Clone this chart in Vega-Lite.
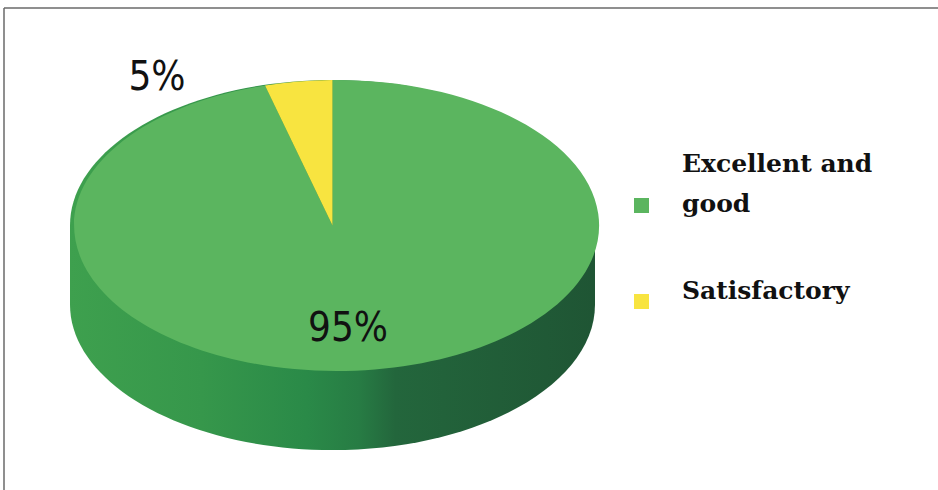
{
  "$schema": "https://vega.github.io/schema/vega-lite/v6.json",
  "width": 934,
  "height": 482,
  "padding": {"left": 4, "top": 8, "right": 0, "bottom": 0},
  "autosize": {"type": "none"},
  "background": "white",
  "view": {"stroke": null},
  "data": {"values": [
    {"category": "Excellent and good", "share": 0.95},
    {"category": "Satisfactory", "share": 0.05}
  ]},
  "layer": [
    {
      "mark": {"type": "point", "shape": "square", "size": 100, "filled": true, "opacity": 1, "strokeWidth": 0},
      "encoding": {
        "color": {"field": "category", "type": "nominal",
          "scale": {"domain": ["Excellent and good", "Satisfactory"], "range": ["#5bb55f", "#f8e440"]},
          "legend": {
            "title": null, "orient": "none", "legendX": 625, "legendY": 185,
            "symbolType": "square", "symbolSize": 225, "symbolStrokeWidth": 0, "symbolOpacity": 1,
            "labelFont": "DejaVu Serif", "labelFontWeight": "bold", "labelFontSize": 25,
            "labelColor": "#111111", "labelOffset": 28, "labelLimit": 400, "rowPadding": 61,
            "labelBaseline": "middle",
            "labelExpr": "datum.label == 'Excellent and good' ? ['Excellent and', 'good'] : datum.label",
            "encode": {
              "symbols": {"update": {
                "fill": {"signal": "datum.value == 'Excellent and good' ? '#3fa24d' : '#f6df3c'"}
              }},
              "labels": {"update": {
                "lineHeight": {"value": 40},
                "dy": {"signal": "datum.label == 'Excellent and good' ? -42 : -11"}
              }}
            }
          }}
      }
    },
    {
      "transform": [{"filter": "datum.category == 'Excellent and good'"}],
      "mark": {
        "type": "point",
        "shape": "M -401 -23.5 L -401 55.5 A 262.5 145.5 0 0 0 124 55.5 L 124 -23.5 A 262.5 145.5 0 0 0 -401 -23.5 Z",
        "size": 4, "filled": true, "opacity": 1, "strokeWidth": 0,
        "fill": {"gradient": "linear", "x1": 0, "y1": 0, "x2": 1, "y2": 0,
          "stops": [
            {"offset": 0, "color": "#3ea04e"},
            {"offset": 0.25, "color": "#36974b"},
            {"offset": 0.45, "color": "#2a8a48"},
            {"offset": 0.55, "color": "#277c44"},
            {"offset": 0.62, "color": "#23663c"},
            {"offset": 1, "color": "#1f5534"}
          ]}
      },
      "encoding": {}
    },
    {
      "transform": [{"filter": "datum.category == 'Excellent and good'"}],
      "mark": {"type": "point", "size": 4, "filled": true, "opacity": 1, "strokeWidth": 0,
        "shape": "M -138.5 -23.5 L -206 -163.5 A 262.5 145.5 0 1 0 -138.5 -169 Z"},
      "encoding": {
        "color": {"field": "category", "type": "nominal", "legend": null}
      }
    },
    {
      "transform": [{"filter": "datum.category == 'Satisfactory'"}],
      "mark": {"type": "point", "size": 4, "filled": true, "opacity": 1, "strokeWidth": 0,
        "shape": "M -138.5 -23.5 L -138.5 -169 A 262.5 145.5 0 0 0 -206 -163.5 Z"},
      "encoding": {
        "color": {"field": "category", "type": "nominal", "legend": null}
      }
    },
    {
      "transform": [{"filter": "datum.category == 'Satisfactory'"}],
      "mark": {"type": "text", "dx": -314, "dy": -171, "align": "center", "baseline": "middle",
        "font": "DejaVu Sans Condensed, sans-serif", "fontSize": 40, "color": "#111111"},
      "encoding": {"text": {"field": "share", "type": "quantitative", "format": ".0%"}}
    },
    {
      "transform": [{"filter": "datum.category == 'Excellent and good'"}],
      "mark": {"type": "text", "dx": -123, "dy": 80, "align": "center", "baseline": "middle",
        "font": "DejaVu Sans Condensed, sans-serif", "fontSize": 40, "color": "#111111"},
      "encoding": {"text": {"field": "share", "type": "quantitative", "format": ".0%"}}
    },
    {
      "transform": [{"filter": "datum.category == 'Excellent and good'"}],
      "mark": {"type": "rect", "fill": null, "fillOpacity": 0, "stroke": "#6b6b6b", "strokeWidth": 1.5,
        "strokeDash": [934, 1416, 482, 0]},
      "encoding": {}
    }
  ]
}
